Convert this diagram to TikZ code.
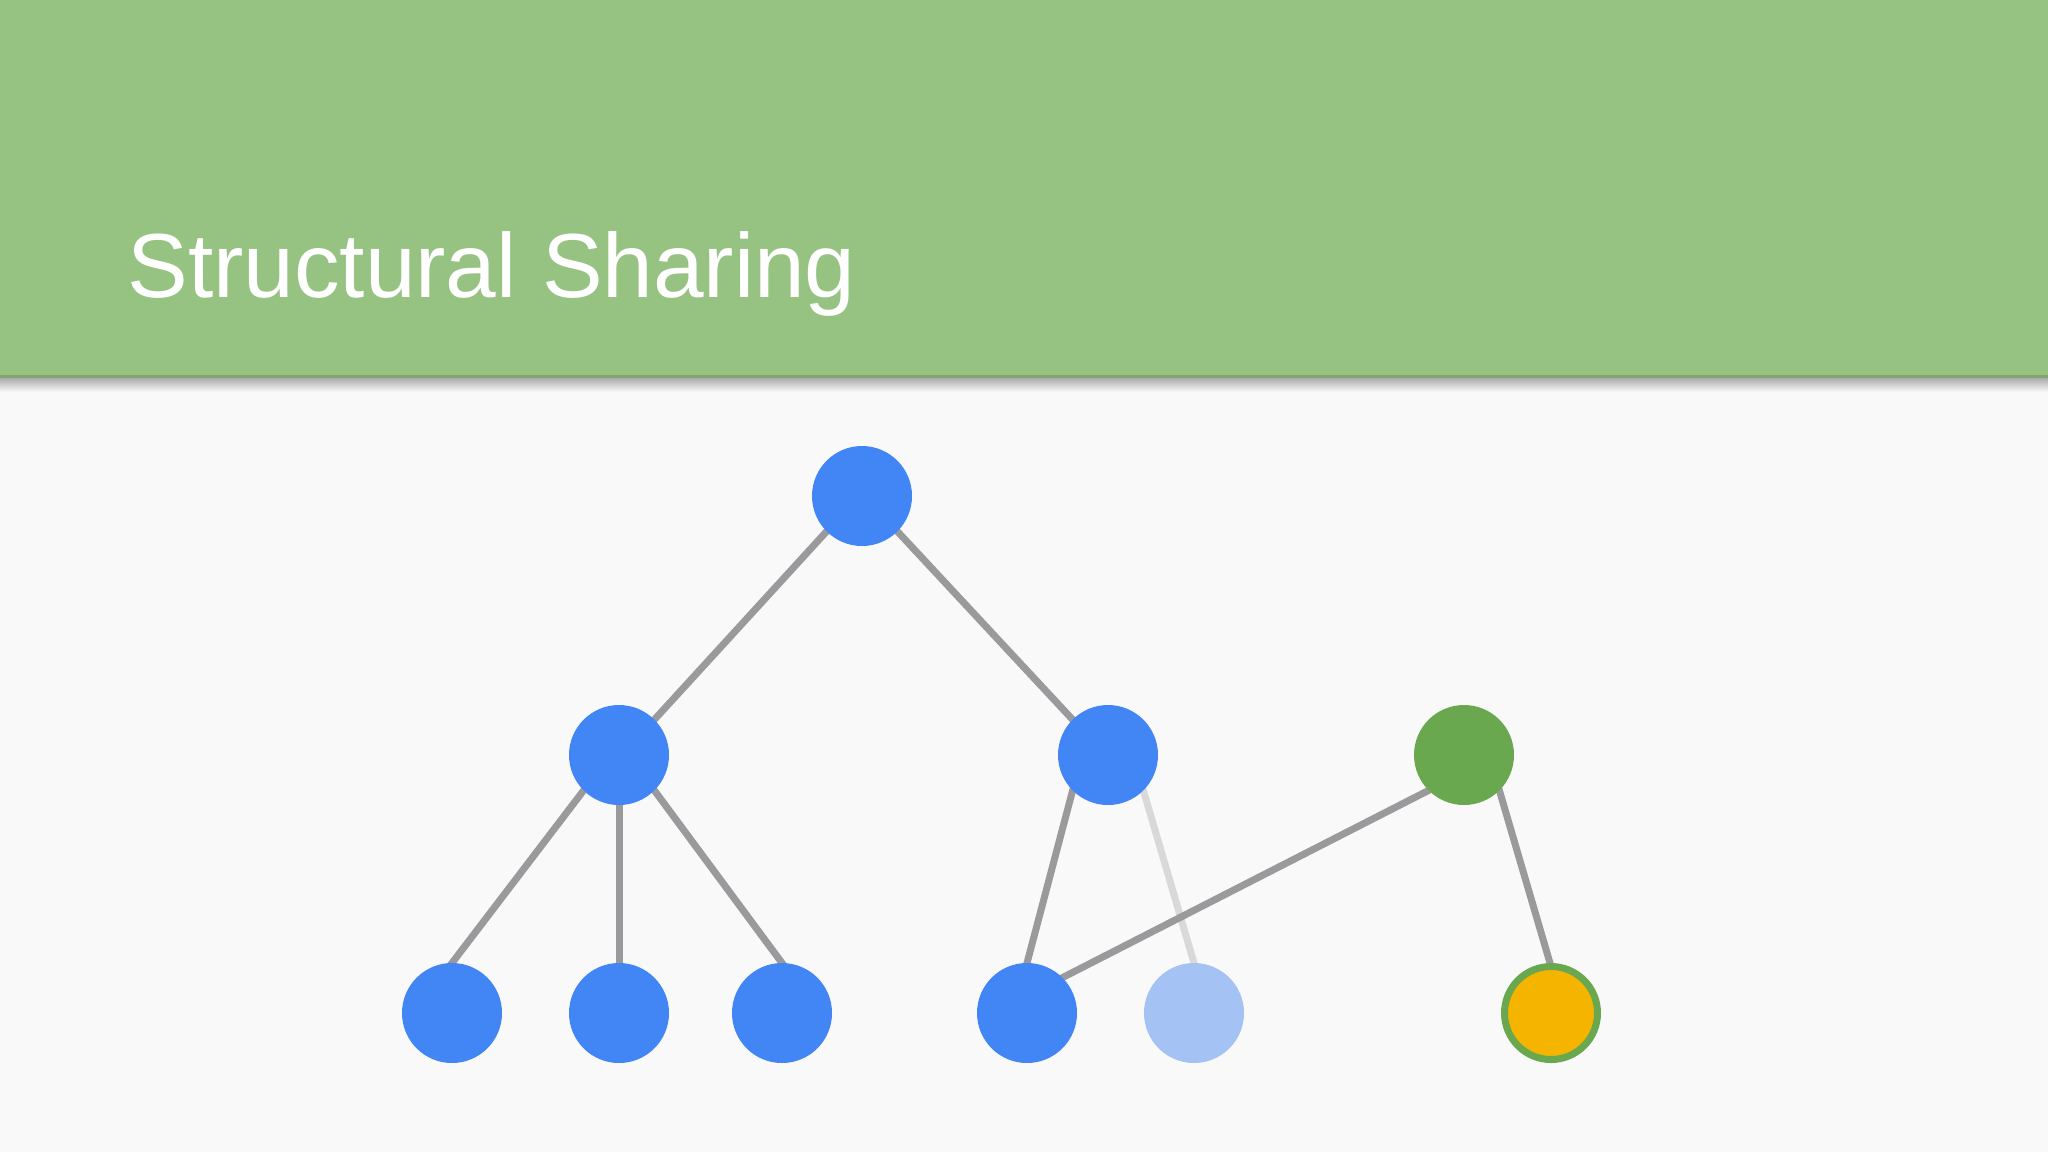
\documentclass[tikz,border=0pt]{standalone}
\usepackage{fontspec}
\setmainfont{Liberation Sans}
\definecolor{bg}{HTML}{F9F9FA}
\definecolor{hdr}{HTML}{96C382}
\definecolor{nblue}{HTML}{4285F4}
\definecolor{nlight}{HTML}{A4C2F4}
\definecolor{ngreen}{HTML}{6AA84F}
\definecolor{nyellow}{HTML}{F4B400}
\definecolor{edgegray}{HTML}{9A999B}
\definecolor{edgefaint}{HTML}{D9D9D9}
\pgfdeclarelayer{bglayer}
\pgfdeclarelayer{edgelayer}
\pgfsetlayers{bglayer,edgelayer,main}
\begin{document}
\begin{tikzpicture}[x=0.5pt,y=-0.5pt,
  nodebase/.style={circle,minimum size=50pt,inner sep=0pt,outer sep=0pt,draw=none},
  bluenode/.style={nodebase,fill=nblue},
  lightnode/.style={nodebase,fill=nlight},
  greennode/.style={nodebase,fill=ngreen},
  yellownode/.style={nodebase,fill=nyellow,draw=ngreen,line width=3.5pt,minimum size=46.5pt},
  edge/.style={draw=edgegray,line width=3.5pt,shorten <=-3pt,shorten >=-3pt},
  faintedge/.style={draw=edgefaint,line width=3.5pt,shorten <=-3pt,shorten >=-3pt}]
\useasboundingbox (0,0) rectangle (2048,1152);
\begin{pgfonlayer}{bglayer}
\fill[bg] (0,0) rectangle (2048,1152);
\shade[top color=black!35,bottom color=bg] (0,377) rectangle (2048,392);
\fill[hdr] (0,0) rectangle (2048,377);
\fill[hdr!85!black] (0,375) rectangle (2048,378);
\end{pgfonlayer}
\node[anchor=base west,inner sep=0pt,text=white,font=\fontsize{45.5}{54}\selectfont] (title) at (127,297) {Structural Sharing};
% nodes
\node[bluenode] (root) at (862,496) {};
\node[bluenode] (l) at (619,755) {};
\node[bluenode] (r) at (1108,755) {};
\node[greennode] (g) at (1464,755) {};
\node[bluenode] (a) at (452,1013) {};
\node[bluenode] (b) at (619,1013) {};
\node[bluenode] (c) at (782,1013) {};
\node[bluenode] (d) at (1027,1013) {};
\node[lightnode] (e) at (1194,1013) {};
\node[yellownode] (y) at (1551,1013) {};
% edges behind nodes
\begin{pgfonlayer}{edgelayer}
\draw[faintedge] (r.south east) -- (e.north);
\draw[edge] (root.south west) -- (l.north east);
\draw[edge] (root.south east) -- (r.north west);
\draw[edge] (l.south west) -- (a.north);
\draw[edge] (l.south) -- (b.north);
\draw[edge] (l.south east) -- (c.north);
\draw[edge] (r.south west) -- (d.north);
\draw[edge] (g.south west) -- (d.north east);
\draw[edge] (g.south east) -- (y.north);
\end{pgfonlayer}
\end{tikzpicture}
\end{document}
